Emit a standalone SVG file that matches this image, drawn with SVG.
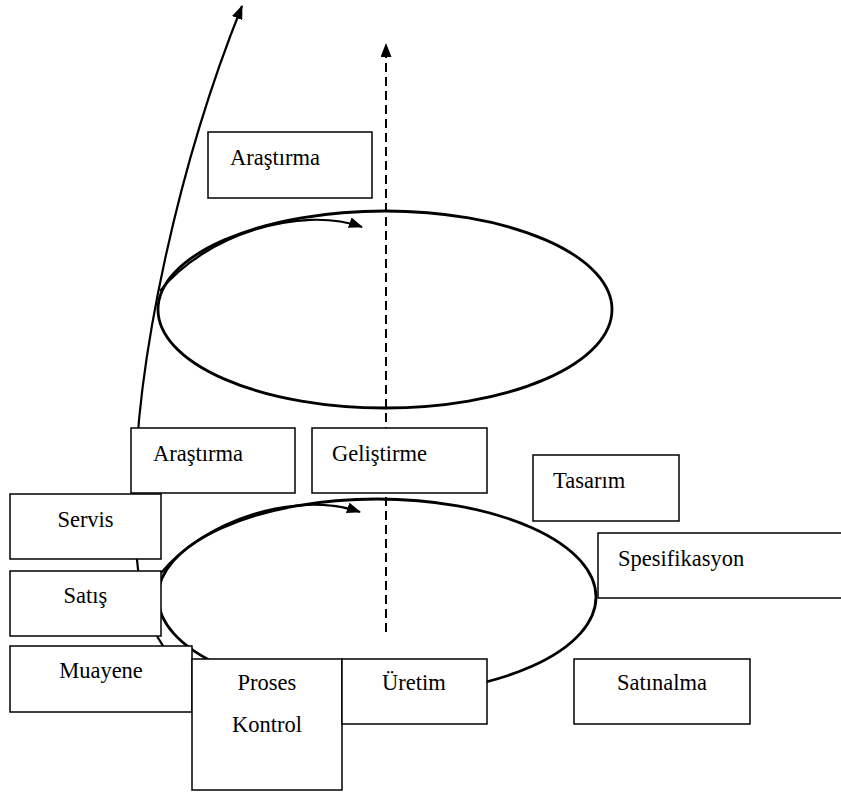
<svg xmlns="http://www.w3.org/2000/svg" width="841" height="796" viewBox="0 0 841 796">
<defs>
<marker id="ah" viewBox="0 0 14 11" refX="13" refY="5.5" markerWidth="14" markerHeight="11" markerUnits="userSpaceOnUse" orient="auto">
<path d="M0 0 L14 5.5 L0 11 Z" fill="#000"/>
</marker>
<style>
.box rect{fill:#fff;stroke:#000;stroke-width:1.5}
.box text{font-size:22.5px;fill:#000}
.ell{fill:none;stroke:#000;stroke-width:2.8}
.cur{fill:none;stroke:#000;stroke-width:2.2}
.dash{fill:none;stroke:#000;stroke-width:2;stroke-dasharray:9 5}
</style>
</defs>
<rect width="841" height="796" fill="#fff"/>
<g id="connectors">
<ellipse class="ell" cx="385" cy="309.5" rx="227" ry="98.5"/>
<ellipse class="ell" cx="377" cy="597" rx="219" ry="98"/>
<path class="dash" d="M386 632 L386 44" marker-end="url(#ah)"/>
<path class="cur" d="M185 668 C150 645 133 590 135 500 C135 360 180 160 242 6" marker-end="url(#ah)"/>
<path class="cur" d="M160 291 C205 235 300 205 362 227" marker-end="url(#ah)"/>
<path class="cur" d="M161 573 C205 520 295 490 360 512" marker-end="url(#ah)"/>
</g>
<g font-family="'Liberation Serif', 'DejaVu Serif', serif">
<g id="arastirma-top" class="box"><rect x="208" y="132" width="164" height="66"/><text x="230" y="165">Araştırma</text></g>
<g id="arastirma" class="box"><rect x="131" y="428" width="164" height="65"/><text x="153" y="461">Araştırma</text></g>
<g id="gelistirme" class="box"><rect x="312" y="428" width="175" height="65"/><text x="332" y="461">Geliştirme</text></g>
<g id="tasarim" class="box"><rect x="533" y="455" width="146" height="66"/><text x="553" y="488">Tasarım</text></g>
<g id="spesifikasyon" class="box"><rect x="598" y="533" width="250" height="65"/><text x="618" y="566">Spesifikasyon</text></g>
<g id="servis" class="box"><rect x="10" y="494" width="151" height="65"/><text x="85.5" y="527" text-anchor="middle">Servis</text></g>
<g id="satis" class="box"><rect x="10" y="571" width="151" height="65"/><text x="85.5" y="603" text-anchor="middle">Satış</text></g>
<g id="muayene" class="box"><rect x="10" y="646" width="182" height="66"/><text x="101" y="678" text-anchor="middle">Muayene</text></g>
<g id="proses-kontrol" class="box"><rect x="192" y="659" width="150" height="131"/><text x="267" y="690" text-anchor="middle">Proses</text><text x="267" y="732" text-anchor="middle">Kontrol</text></g>
<g id="uretim" class="box"><rect x="342" y="659" width="145" height="65"/><text x="382" y="690">Üretim</text></g>
<g id="satinalma" class="box"><rect x="574" y="659" width="176" height="65"/><text x="617" y="690">Satınalma</text></g>
</g>
</svg>
